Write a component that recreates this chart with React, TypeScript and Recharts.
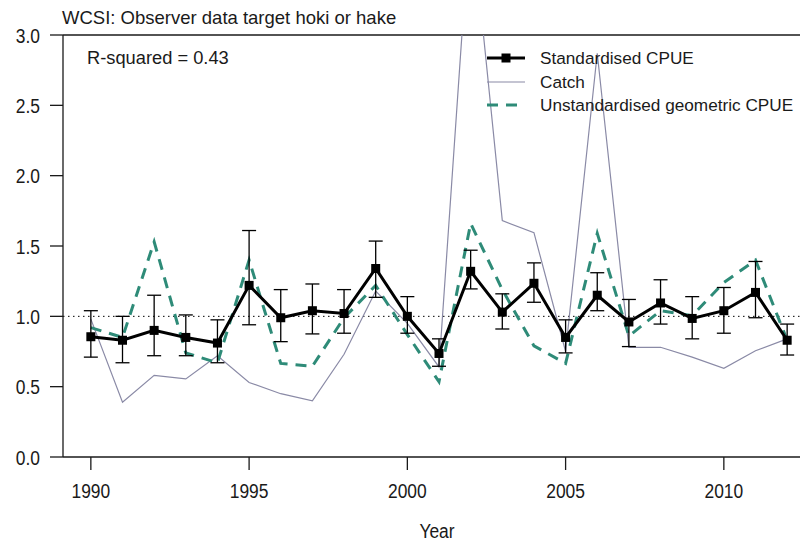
import React from 'react';
import { ComposedChart, Line, XAxis, YAxis, ReferenceLine, ErrorBar } from 'recharts';

const years = [1990, 1991, 1992, 1993, 1994, 1995, 1996, 1997, 1998, 1999, 2000, 2001, 2002, 2003, 2004, 2005, 2006, 2007, 2008, 2009, 2010, 2011, 2012];
const standardised = [0.855, 0.83, 0.9, 0.85, 0.81, 1.22, 0.99, 1.04, 1.02, 1.34, 1.0, 0.736, 1.32, 1.03, 1.235, 0.85, 1.15, 0.96, 1.095, 0.985, 1.04, 1.17, 0.83];
const standardisedLower = [0.71, 0.67, 0.72, 0.72, 0.67, 0.94, 0.82, 0.875, 0.88, 1.135, 0.88, 0.645, 1.195, 0.91, 1.1, 0.74, 1.04, 0.785, 0.945, 0.84, 0.88, 0.99, 0.725];
const standardisedUpper = [1.04, 1.0, 1.15, 1.01, 0.975, 1.61, 1.19, 1.23, 1.19, 1.535, 1.14, 0.84, 1.47, 1.16, 1.38, 0.975, 1.31, 1.12, 1.26, 1.14, 1.205, 1.39, 0.945];
const catchIndex = [0.98, 0.39, 0.58, 0.555, 0.72, 0.53, 0.45, 0.4, 0.73, 1.18, 0.95, 0.64, 3.9, 1.68, 1.595, 0.75, 2.87, 0.78, 0.78, 0.71, 0.63, 0.755, 0.84];
const geometric = [0.92, 0.85, 1.53, 0.74, 0.67, 1.4, 0.665, 0.645, 0.99, 1.22, 0.87, 0.535, 1.66, 1.19, 0.79, 0.665, 1.59, 0.86, 1.04, 1.005, 1.24, 1.4, 0.83];
const xTicks = [1990, 1995, 2000, 2005, 2010];
const yTicks = [0, 0.5, 1, 1.5, 2, 2.5, 3];
const legendLabels = ['Standardised CPUE', 'Catch', 'Unstandardised geometric CPUE'];
const titleText = 'WCSI: Observer data target hoki or hake';
const rSquaredText = 'R-squared = 0.43';
const xTitle = 'Year';

const data = years.map((y, i) => ({
  year: y,
  std: standardised[i],
  err: [standardised[i] - standardisedLower[i], standardisedUpper[i] - standardised[i]],
  catchIdx: catchIndex[i],
  geo: geometric[i],
}));

const FONT = '"Liberation Sans", Arial, sans-serif';
const INK = '#1a1a1a';
const CATCH_COLOR = '#8a8aa6';
const GEO_COLOR = '#2e8b78';
const AXIS_FONT_SIZE = 21;
const AXIS_SQUEEZE = 0.83;
const LEGEND_FONT_SIZE = 17.2;

const SquareDot = (props: any) => {
  const { cx, cy, index } = props;
  if (cx == null || cy == null) return null;
  return <rect key={`sq-${index}`} x={cx - 4.5} y={cy - 4.5} width={9} height={9} fill="#000" />;
};

const XTick = (props: any) => {
  const { x, y, payload } = props;
  return (
    <text
      transform={`translate(${x},${y}) scale(${AXIS_SQUEEZE},1)`}
      textAnchor="middle"
      fontFamily={FONT}
      fontSize={AXIS_FONT_SIZE}
      fill={INK}
      dy={18}
    >
      {payload.value}
    </text>
  );
};

const YTick = (props: any) => {
  const { x, y, payload } = props;
  return (
    <text
      transform={`translate(${x},${y}) scale(${AXIS_SQUEEZE},1)`}
      textAnchor="end"
      fontFamily={FONT}
      fontSize={AXIS_FONT_SIZE}
      fill={INK}
      dy={7.5}
    >
      {Number(payload.value).toFixed(1)}
    </text>
  );
};

export default function App() {
  return (
    <div style={{ position: 'absolute', left: 0, top: 0, width: 800, height: 543, overflow: 'hidden', background: '#fff' }}>
      <ComposedChart
        width={815}
        height={543}
        data={data}
        margin={{ top: 35, right: 0, bottom: 0, left: 0 }}
      >
        <XAxis
          type="number"
          dataKey="year"
          domain={[1989.12, 2012.88]}
          ticks={xTicks}
          allowDataOverflow
          height={86}
          tickSize={13}
          tickMargin={10}
          axisLine={{ stroke: INK, strokeWidth: 1.3 }}
          tickLine={{ stroke: INK, strokeWidth: 1.3 }}
          tick={<XTick />}
        />
        <YAxis
          type="number"
          domain={[0, 3]}
          ticks={yTicks}
          allowDataOverflow
          width={63}
          tickSize={13}
          tickMargin={10}
          axisLine={{ stroke: INK, strokeWidth: 1.3 }}
          tickLine={{ stroke: INK, strokeWidth: 1.3 }}
          tick={<YTick />}
        />
        <ReferenceLine y={3} stroke={INK} strokeWidth={1.3} />
        <ReferenceLine y={1} stroke="#000" strokeWidth={1} strokeDasharray="1.5 3.5" />
        <Line
          type="linear"
          dataKey="catchIdx"
          stroke={CATCH_COLOR}
          strokeWidth={1.2}
          dot={false}
          activeDot={false}
          isAnimationActive={false}
        />
        <Line
          type="linear"
          dataKey="geo"
          stroke={GEO_COLOR}
          strokeWidth={3}
          strokeDasharray="11 8"
          dot={false}
          activeDot={false}
          isAnimationActive={false}
        />
        <Line
          type="linear"
          dataKey="std"
          stroke="#000"
          strokeWidth={3}
          dot={<SquareDot />}
          activeDot={false}
          isAnimationActive={false}
        >
          <ErrorBar dataKey="err" width={7} stroke="#000" strokeWidth={1.3} direction="y" isAnimationActive={false} />
        </Line>
      </ComposedChart>
      <svg
        width={800}
        height={543}
        style={{ position: 'absolute', left: 0, top: 0, pointerEvents: 'none' }}
      >
        <text x={62} y={24} fontFamily={FONT} fontSize={18.5} fill={INK}>{titleText}</text>
        <text x={87} y={64} fontFamily={FONT} fontSize={18.3} fill={INK}>{rSquaredText}</text>
        <text
          transform={`translate(437,538) scale(${AXIS_SQUEEZE},1)`}
          textAnchor="middle"
          fontFamily={FONT}
          fontSize={AXIS_FONT_SIZE}
          fill={INK}
        >
          {xTitle}
        </text>
        <line x1={487} y1={58} x2={525} y2={58} stroke="#000" strokeWidth={3} />
        <rect x={501.5} y={53.5} width={9} height={9} fill="#000" />
        <line x1={487} y1={82} x2={525} y2={82} stroke={CATCH_COLOR} strokeWidth={1.2} />
        <line x1={487} y1={105} x2={525} y2={105} stroke={GEO_COLOR} strokeWidth={3} strokeDasharray="11 8" />
        <text x={540} y={64} fontFamily={FONT} fontSize={LEGEND_FONT_SIZE} fill={INK}>{legendLabels[0]}</text>
        <text x={540} y={88} fontFamily={FONT} fontSize={LEGEND_FONT_SIZE} fill={INK}>{legendLabels[1]}</text>
        <text x={540} y={111} fontFamily={FONT} fontSize={LEGEND_FONT_SIZE} fill={INK}>{legendLabels[2]}</text>
      </svg>
    </div>
  );
}
